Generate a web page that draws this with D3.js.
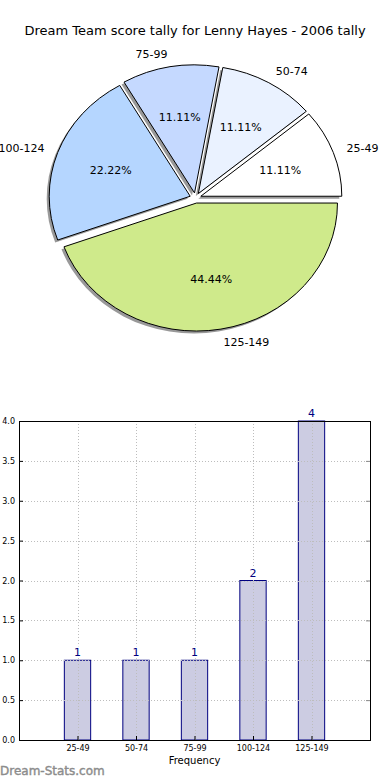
<!DOCTYPE html>
<html>
<head>
<meta charset="utf-8">
<script src="https://cdn.jsdelivr.net/npm/d3@7"></script>
<style>
  body { margin: 0; background: #fff; }
  svg { display: block; font-family: "DejaVu Sans", sans-serif; }
</style>
</head>
<body>
<script>
// score bands and how many games fell in each
var bands = ["25-49", "50-74", "75-99", "100-124", "125-149"];
var counts = [1, 1, 1, 2, 4];
var sliceColors = ["#ffffff", "#eaf2ff", "#c5d9ff", "#b5d6ff", "#cfea8b"];
var yTicks = [0, 0.5, 1, 1.5, 2, 2.5, 3, 3.5, 4];

var width = 390, height = 780;

var svg = d3.select("body").append("svg")
    .attr("width", width)
    .attr("height", height);

svg.append("text")
    .attr("x", 195)
    .attr("y", 35)
    .attr("text-anchor", "middle")
    .style("font-size", "13px")
    .text("Dream Team score tally for Lenny Hayes - 2006 tally");

// ---- pie (matplotlib style: starts at 3 o'clock, goes anticlockwise, squashed) ----
var cx = 195.5, cy = 198, rx = 141, ry = 128;
var explode = 0.04;
var total = d3.sum(counts);

var pie = d3.pie().sort(null)
    .startAngle(Math.PI / 2)
    .endAngle(Math.PI / 2 - 2 * Math.PI);
var arcs = pie(counts);

var arc = d3.arc().innerRadius(0).outerRadius(rx);

function mid(d) { return (d.startAngle + d.endAngle) / 2; }
// unit vector on screen for a d3 angle
function ux(a) { return Math.sin(a); }
function uy(a) { return -Math.cos(a); }

function sliceTransform(d, dx, dy) {
  var a = mid(d);
  var ox = cx + explode * rx * ux(a) + dx,
      oy = cy + explode * ry * uy(a) + dy;
  return "translate(" + ox + "," + oy + ") scale(1," + (ry / rx) + ")";
}

var pieG = svg.append("g");

// shadows
pieG.selectAll("path.shadow")
    .data(arcs)
  .enter().append("path")
    .attr("class", "shadow")
    .attr("d", arc)
    .attr("transform", function(d) { return sliceTransform(d, -2.5, 2.5); })
    .style("fill", "#000")
    .style("fill-opacity", 0.4);

pieG.selectAll("path.slice")
    .data(arcs)
  .enter().append("path")
    .attr("class", "slice")
    .attr("d", arc)
    .attr("transform", function(d) { return sliceTransform(d, 0, 0); })
    .style("fill", function(d, i) { return sliceColors[i]; })
    .style("stroke", "#000")
    .style("stroke-width", 1)
    .attr("vector-effect", "non-scaling-stroke");

// outer labels
pieG.selectAll("text.lab")
    .data(arcs)
  .enter().append("text")
    .attr("class", "lab")
    .attr("x", function(d) { var a = mid(d); return cx + explode * rx * ux(a) + 1.1 * rx * ux(a); })
    .attr("y", function(d) { var a = mid(d); return cy + explode * ry * uy(a) + 1.1 * ry * uy(a); })
    .attr("dy", "0.35em")
    .attr("text-anchor", function(d) { return ux(mid(d)) > 0 ? "start" : "end"; })
    .style("font-size", "11px")
    .text(function(d, i) { return bands[i]; });

// percentages
pieG.selectAll("text.pct")
    .data(arcs)
  .enter().append("text")
    .attr("class", "pct")
    .attr("x", function(d) { var a = mid(d); return cx + explode * rx * ux(a) + 0.6 * rx * ux(a); })
    .attr("y", function(d) { var a = mid(d); return cy + explode * ry * uy(a) + 0.6 * ry * uy(a); })
    .attr("dy", "0.35em")
    .attr("text-anchor", "middle")
    .style("font-size", "11px")
    .text(function(d) { return (d.value / total * 100).toFixed(2) + "%"; });

// ---- bar chart ----
var plotL = 19, plotR = 370, plotT = 421, plotB = 740;

var x = d3.scaleLinear().domain([0, bands.length + 1]).range([plotL, plotR]);
var y = d3.scaleLinear().domain([0, 4]).range([plotB, plotT]);
var barW = 0.45;

var bars = svg.append("g");

bars.selectAll("rect")
    .data(counts)
  .enter().append("rect")
    .attr("x", function(d, i) { return x(i + 1 - barW / 2); })
    .attr("width", function() { return x(barW) - x(0); })
    .attr("y", function(d) { return y(d); })
    .attr("height", function(d) { return y(0) - y(d); })
    .style("fill", "#ccccE2")
    .style("stroke", "#000080")
    .style("stroke-width", 1);

// dotted grid on top of bars
var grid = svg.append("g")
    .style("stroke", "#bdbdbd")
    .style("stroke-dasharray", "1,2")
    .style("stroke-width", 1);

grid.selectAll("line.h")
    .data(yTicks)
  .enter().append("line")
    .attr("x1", plotL).attr("x2", plotR)
    .attr("y1", function(d) { return Math.round(y(d)) + 0.5; })
    .attr("y2", function(d) { return Math.round(y(d)) + 0.5; });

grid.selectAll("line.v")
    .data(bands)
  .enter().append("line")
    .attr("y1", plotT).attr("y2", plotB)
    .attr("x1", function(d, i) { return Math.round(x(i + 1)) + 0.5; })
    .attr("x2", function(d, i) { return Math.round(x(i + 1)) + 0.5; });

// value labels, above the grid
var vals = svg.append("g");
vals.selectAll("rect")
    .data(counts)
  .enter().append("rect")
    .attr("x", function(d, i) { return x(i + 1) - 4; })
    .attr("y", function(d) { return y(d) - 14; })
    .attr("width", 8)
    .attr("height", 12)
    .style("fill", "#fff");
vals.selectAll("text")
    .data(counts)
  .enter().append("text")
    .attr("x", function(d, i) { return x(i + 1); })
    .attr("y", function(d) { return y(d) - 4; })
    .attr("text-anchor", "middle")
    .style("font-size", "11px")
    .style("fill", "#000080")
    .text(function(d) { return d; });

// axes
var yAxis = d3.axisLeft(y).tickValues(yTicks).tickFormat(d3.format(".1f"))
    .tickSizeInner(-4).tickSizeOuter(0).tickPadding(4);
var gy = svg.append("g")
    .attr("transform", "translate(" + plotL + ",0)")
    .call(yAxis);
gy.select(".domain").remove();
gy.selectAll("text").style("font-size", "8px").style("font-family", "DejaVu Sans");

var yAxisR = d3.axisRight(y).tickValues(yTicks).tickFormat("")
    .tickSizeInner(-4).tickSizeOuter(0);
var gyr = svg.append("g")
    .attr("transform", "translate(" + plotR + ",0)")
    .call(yAxisR);
gyr.select(".domain").remove();
gyr.selectAll("line").style("stroke", "#888");

var xAxis = d3.axisBottom(x).tickValues(d3.range(1, bands.length + 1))
    .tickFormat(function(d) { return bands[d - 1]; })
    .tickSizeInner(-4).tickSizeOuter(0).tickPadding(5);
var gx = svg.append("g")
    .attr("transform", "translate(0," + plotB + ")")
    .call(xAxis);
gx.select(".domain").remove();
gx.selectAll("text").style("font-size", "8px").style("font-family", "DejaVu Sans");

svg.append("rect")
    .attr("x", plotL + 0.5).attr("y", plotT + 0.5)
    .attr("width", plotR - plotL).attr("height", plotB - plotT)
    .style("fill", "none")
    .style("stroke", "#000")
    .style("stroke-width", 1);

svg.append("text")
    .attr("x", (plotL + plotR) / 2)
    .attr("y", 764)
    .attr("text-anchor", "middle")
    .style("font-size", "10px")
    .text("Frequency");

svg.append("text")
    .attr("x", 0)
    .attr("y", 775)
    .style("font-size", "12px")
    .style("fill", "#8c8c8c")
    .style("stroke", "#8c8c8c")
    .style("stroke-width", 0.4)
    .text("Dream-Stats.com");
</script>
</body>
</html>
